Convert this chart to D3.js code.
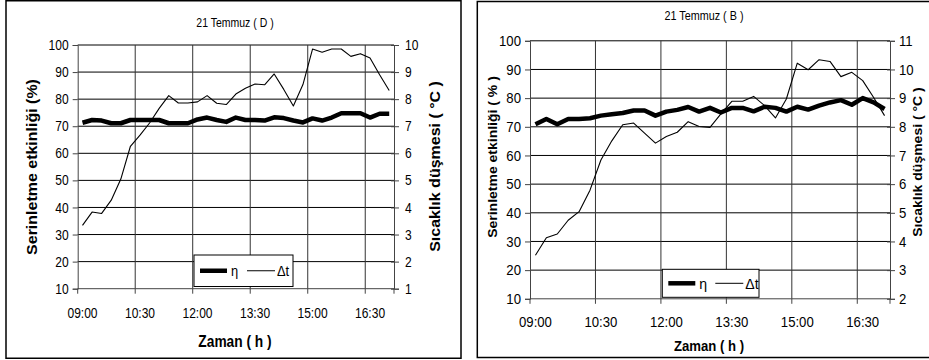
<!DOCTYPE html>
<html>
<head>
<meta charset="utf-8">
<script src="https://cdn.jsdelivr.net/npm/d3@7"></script>
<style>
  body { margin: 0; background: #fff; }
  svg { display: block; }
  text { font-family: "Liberation Sans", Arial, sans-serif; fill: #000; }
</style>
</head>
<body>
<svg id="chart" width="929" height="360"></svg>
<script>
// 15-min categories, 09:00 .. 17:00
const times = ["09:00","09:15","09:30","09:45","10:00","10:15","10:30","10:45","11:00","11:15","11:30",
  "11:45","12:00","12:15","12:30","12:45","13:00","13:15","13:30","13:45","14:00","14:15","14:30",
  "14:45","15:00","15:15","15:30","15:45","16:00","16:15","16:30","16:45","17:00"];
const xTickLabels = ["09:00","10:30","12:00","13:30","15:00","16:30"];

// 21 Temmuz (D)
const etaD = [71.3,72.3,72.1,71.1,71.1,72.3,72.3,72.3,72.3,71.1,71.1,71.1,72.5,73.2,72.3,71.6,73.2,
  72.3,72.3,72.1,73.3,73.0,72.1,71.4,72.9,72.1,73.2,74.8,74.8,74.8,73.2,74.6,74.6];
const dtD = [3.34,3.83,3.78,4.27,5.05,6.26,6.67,7.12,7.66,8.13,7.86,7.86,7.9,8.13,7.85,7.8,8.19,
  8.4,8.56,8.53,8.93,8.36,7.75,8.54,9.85,9.73,9.85,9.85,9.58,9.68,9.52,8.9,8.32];

// 21 Temmuz (B)
const etaB = [70.9,72.7,70.9,72.7,72.7,73.0,73.9,74.4,74.8,75.7,75.7,73.9,75.3,75.9,76.9,75.3,76.6,
  75.0,76.6,76.6,75.4,77.0,76.6,75.3,77.0,76.0,77.4,78.5,79.3,77.7,80.0,78.5,76.2];
const dtB = [3.52,4.13,4.26,4.74,5.04,5.79,6.84,7.51,8.07,8.13,7.78,7.43,7.66,7.81,8.18,8.01,7.98,
  8.45,8.89,8.89,9.06,8.74,8.31,8.97,10.22,9.99,10.34,10.28,9.75,9.9,9.61,9.02,8.39];

const leftTicks = [10,20,30,40,50,60,70,80,90,100];
const rightTicksD = [1,2,3,4,5,6,7,8,9,10];
const rightTicksB = [2,3,4,5,6,7,8,9,10,11];

const svg = d3.select("#chart");

function label(g, x, y, txt, o) {
  const t = g.append("text")
    .attr("transform", `translate(${x},${y}) scale(${o.sx || 1},1)` + (o.rot ? " rotate(-90)" : ""))
    .attr("text-anchor", o.anchor || "middle")
    .attr("font-size", o.size)
    .attr("font-weight", o.bold ? "bold" : "normal")
    .text(txt);
  if (o.dy) t.attr("dy", o.dy);
  return t;
}

function drawPanel(p) {
  const g = svg.append("g");

  g.append("rect")
    .attr("x", p.frame[0]).attr("y", p.frame[1])
    .attr("width", p.frame[2]).attr("height", p.frame[3])
    .attr("fill", "#fff").attr("stroke", "#000").attr("stroke-width", 1.5);

  const x = d3.scaleBand().domain(times).range([p.l, p.r]).paddingInner(0).paddingOuter(0);
  const y = d3.scaleLinear().domain([10, 100]).range([p.b, p.t]);
  const y2 = d3.scaleLinear().domain([p.rTicks[0], p.rTicks[p.rTicks.length - 1]]).range([p.b, p.t]);
  const cx = d => x(d) + x.bandwidth() / 2;

  // horizontal grid
  g.selectAll(".hg").data(leftTicks.slice(1)).join("line")
    .attr("x1", p.l).attr("x2", p.r)
    .attr("y1", d => y(d)).attr("y2", d => y(d))
    .attr("stroke", "#000").attr("stroke-width", 1);

  // vertical grid at category boundaries (every 6)
  const bounds = times.filter((d, i) => i % 6 === 0);
  g.selectAll(".vg").data(bounds.slice(1)).join("line")
    .attr("x1", d => x(d)).attr("x2", d => x(d))
    .attr("y1", p.t).attr("y2", p.b)
    .attr("stroke", "#333").attr("stroke-width", 1);

  // axes
  const axL = g.append("g").attr("transform", `translate(${p.l},0)`)
    .call(d3.axisLeft(y).tickValues(leftTicks).tickSize(5).tickFormat(""));
  const axR = g.append("g").attr("transform", `translate(${p.r},0)`)
    .call(d3.axisRight(y2).tickValues(p.rTicks).tickSize(5).tickFormat(""));
  [axL, axR].forEach(a => {
    a.select(".domain").attr("stroke", "#444");
    a.selectAll(".tick line").attr("stroke", "#444");
  });
  axR.selectAll(".tick line").attr("x1", -3);
  g.append("line").attr("x1", p.l).attr("x2", p.r).attr("y1", p.b).attr("y2", p.b)
    .attr("stroke", "#444");
  g.selectAll(".bt").data(bounds).join("line")
    .attr("x1", d => x(d)).attr("x2", d => x(d))
    .attr("y1", p.b).attr("y2", p.b + 5).attr("stroke", "#444");
  g.append("line").attr("x1", p.r).attr("x2", p.r).attr("y1", p.b).attr("y2", p.b + 5).attr("stroke", "#444");

  // tick labels
  leftTicks.forEach(v => label(g, p.l - p.lPad, y(v), v, {size: 14, sx: p.sx, anchor: "end", dy: "0.36em"}));
  p.rTicks.forEach(v => label(g, p.r + p.rPad, y2(v), v, {size: 14, sx: p.sx, anchor: "start", dy: "0.36em"}));
  xTickLabels.forEach(v => label(g, cx(v), p.xLabY, v, {size: 14, sx: p.sx}));

  // series
  const lineEta = d3.line().x((d, i) => cx(times[i])).y(d => y(d));
  const lineDt = d3.line().x((d, i) => cx(times[i])).y(d => y2(d));
  g.append("path").datum(p.dt).attr("d", lineDt)
    .attr("fill", "none").attr("stroke", "#000").attr("stroke-width", 1.1).attr("stroke-linejoin", "round");
  g.append("path").datum(p.eta).attr("d", lineEta)
    .attr("fill", "none").attr("stroke", "#000").attr("stroke-width", 4.5)
    .attr("stroke-linejoin", "round").attr("stroke-linecap", "butt");

  // titles
  label(g, p.title[0], p.title[1], p.titleText, {size: p.titleSize, sx: p.titleSx});
  label(g, p.xTitle[0], p.xTitle[1], "Zaman ( h )", {size: p.boldSize, sx: p.sx, bold: true});
  label(g, p.yTitle[0], p.yTitle[1], p.yTitleText, {size: p.boldSize, sx: p.sx, bold: true, rot: true});
  label(g, p.y2Title[0], p.y2Title[1], "Sıcaklık düşmesi ( °C )", {size: p.boldSize, sx: p.sx, bold: true, rot: true});

  // legend
  const L = p.legend;
  const lg = g.append("g");
  lg.append("rect").attr("x", L.x).attr("y", L.y).attr("width", L.w).attr("height", L.h)
    .attr("fill", "#fff").attr("stroke", "#000").attr("stroke-width", 1);
  const my = L.y + L.h / 2;
  lg.append("line").attr("x1", L.x + 6).attr("x2", L.x + 33).attr("y1", my).attr("y2", my)
    .attr("stroke", "#000").attr("stroke-width", 4.5);
  label(lg, L.x + 37, my, "η", {size: 15, sx: p.sx, anchor: "start", dy: "0.36em"});
  lg.append("line").attr("x1", L.x + 53).attr("x2", L.x + 81).attr("y1", my).attr("y2", my)
    .attr("stroke", "#000").attr("stroke-width", 1);
  label(lg, L.x + 83, my, "Δt", {size: 15, sx: p.sx, anchor: "start", dy: "0.36em"});
}

drawPanel({
  frame: [6, 0.75, 455, 357.5],
  l: 77.7, r: 394, t: 45, b: 288.7,
  rTicks: rightTicksD, eta: etaD, dt: dtD,
  sx: 0.86, lPad: 9, rPad: 11, xLabY: 318,
  title: [235, 27], titleText: "21 Temmuz ( D )", titleSize: 12.5, titleSx: 0.84,
  boldSize: 16,
  xTitle: [235, 347],
  yTitle: [37, 167], yTitleText: "Serinletme etkinliği (%)",
  y2Title: [440, 166.5],
  legend: {x: 194, y: 255, w: 99, h: 31.5}
});

drawPanel({
  frame: [477.3, 1.5, 470, 356],
  l: 530, r: 890, t: 40.8, b: 298.8,
  rTicks: rightTicksB, eta: etaB, dt: dtB,
  sx: 0.94, lPad: 9, rPad: 9, xLabY: 327,
  title: [704, 20], titleText: "21 Temmuz ( B )", titleSize: 12, titleSx: 0.9,
  boldSize: 14,
  xTitle: [709, 350.5],
  yTitle: [497, 157], yTitleText: "Serinletme etkinliği ( % )",
  y2Title: [922, 162],
  legend: {x: 662.3, y: 269.3, w: 96.7, h: 28}
});
</script>
</body>
</html>
